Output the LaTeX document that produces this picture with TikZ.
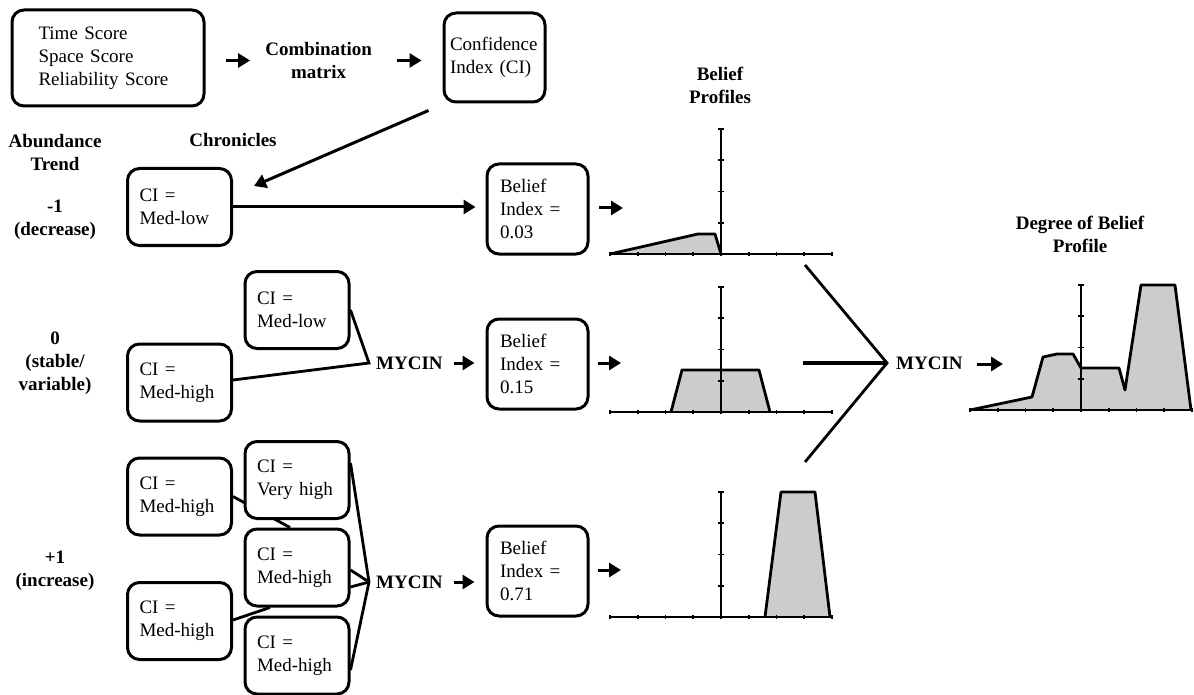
\documentclass[tikz,border=0pt]{standalone}
\usepackage{fontspec}
\setmainfont{Liberation Serif}
\usetikzlibrary{arrows.meta,calc}
\pgfdeclarelayer{bg}
\pgfsetlayers{bg,main}
\begin{document}
\begin{tikzpicture}[x=1pt,y=-1pt,
  font=\fontsize{19}{23}\selectfont,
  box/.style={draw, line width=3pt, rounded corners=12pt, fill=white, align=left, inner sep=0pt},
  cibox/.style={box, minimum width=104pt, minimum height=77pt, text width=80pt},
  bbox/.style={box, minimum width=101pt, minimum height=90pt, text width=75pt},
  lbl/.style={font=\fontsize{19}{23}\selectfont\bfseries, align=center, inner sep=0pt},
  con/.style={line width=2.8pt},
  arr/.style={line width=3pt, -{Triangle[length=12pt,width=14pt]}},
  axisline/.style={line width=1.6pt},
  proffill/.style={fill=black!20},
  profline/.style={line width=2.8pt, line join=round}
]
\useasboundingbox (0,0) rectangle (1194,695);

% ---------- top row ----------
\node[box, minimum width=192pt, minimum height=96pt, text width=139pt] (time) at (108,58)
  {Time Score\\Space Score\\Reliability Score};
\node[lbl] (combo) at (318.6,60.5) {Combination\\matrix};
\node[box, minimum width=101pt, minimum height=89pt, text width=89pt] (ci) at (494.5,57.5)
  {Confidence\\Index (CI)};
\draw[arr, shorten <=20pt, shorten >=15pt] (time.east |- combo.west) -- (combo.west);
\draw[arr, shorten <=25pt, shorten >=21pt] (combo.east) -- (ci.west |- combo.east);

% ---------- headings ----------
\node[lbl] (abund) at (55,152.5) {Abundance\\Trend};
\node[lbl] (chron) at (233,140) {Chronicles};
\node[lbl] (bprof) at (720,85.5) {Belief\\Profiles};
\node[lbl] (dbprof) at (1080,234.5) {Degree of Belief\\Profile};

% ---------- row -1 ----------
\node[lbl] (tm1) at (55,220) {-1\\(decrease)};
\node[cibox] (r1) at (179.5,207) {CI =\\Med-low};
\node[bbox] (b1) at (537.5,209) {Belief\\Index =\\0.03};
\draw[arr] ([shift={(-14,7)}]ci.south west) -- ([shift={(21,19)}]r1.north east);
\draw[arr, shorten >=10pt] (r1.east) -- (b1.west |- r1.east);

% ---------- row 0 ----------
\node[lbl] (t0) at (55,363) {0\\(stable/\\variable)};
\node[cibox] (ml0) at (297,310) {CI =\\Med-low};
\node[cibox] (mh0) at (179.5,382.5) {CI =\\Med-high};
\coordinate (m0) at (369,363);
\node[lbl, anchor=west] (my0) at (376,363) {MYCIN};
\node[bbox] (b2) at (537.5,364) {Belief\\Index =\\0.15};
\draw[con] (ml0.east) -- (m0) -- ([shift={(0,-2.5)}]mh0.east);
\draw[arr, shorten <=11pt, shorten >=11pt] (my0.east) -- (b2.west |- my0.east);

% ---------- row +1 ----------
\node[lbl] (tp1) at (55,571) {+1\\(increase)};
\node[cibox] (pa) at (179.5,496.5) {CI =\\Med-high};
\node[cibox] (pb) at (297,480) {CI =\\Very high};
\node[cibox] (pc) at (297,567.5) {CI =\\Med-high};
\node[cibox] (pd) at (179.5,621) {CI =\\Med-high};
\node[cibox] (pe) at (297,655.5) {CI =\\Med-high};
\coordinate (m1) at (369,582);
\node[lbl, anchor=west] (my1) at (376,582) {MYCIN};
\node[bbox] (b3) at (537.5,571) {Belief\\Index =\\0.71};
\begin{pgfonlayer}{bg}
  \draw[con] (pa.east) -- ([shift={(-7,0)}]pc.north);
  \draw[con] ([shift={(0,-1)}]pd.east) -- ([shift={(-27,0)}]pc.south);
\end{pgfonlayer}
\draw[con] ([shift={(0,-17)}]pb.east) -- (m1);
\draw[con] ([shift={(0,2.5)}]pc.east) -- (m1);
\draw[con] ([shift={(0,19.5)}]pc.east) -- (m1);
\draw[con] ([shift={(0,14.5)}]pe.east) -- (m1);
\draw[arr, shorten <=11pt, shorten >=11pt] (my1.east) -- (b3.west |- my1.east);

% ---------- arrows into belief profiles ----------
\coordinate (a1) at (623,208);
\coordinate (a2) at (621,363);
\coordinate (a3) at (621,570);
\draw[arr, shorten <=9pt] (b1.east |- a1) -- (a1);
\draw[arr, shorten <=8pt] (b2.east |- a2) -- (a2);
\draw[arr, shorten <=8pt] (b3.east |- a3) -- (a3);

% ---------- charts ----------
% chart 1
\begin{scope}[shift={(721,254)}]
  \fill[proffill] (-111,0) -- (-23,-20) -- (-6,-20) -- (0,0) -- cycle;
  \draw[profline] (-111,0) -- (-23,-20) -- (-6,-20) -- (0,0);
  \draw[axisline] (-111,0) -- (111,0);
  \draw[axisline] (0,0) -- (0,-125);
  \foreach \i in {-4,...,4} \draw[axisline] (\i*27.75,-2) -- (\i*27.75,2);
  \foreach \j in {1,...,4} \draw[axisline] (-3,-\j*31.25) -- (3,-\j*31.25);
\end{scope}
% chart 2
\begin{scope}[shift={(721,412)}]
  \fill[proffill] (-50,0) -- (-39,-42) -- (38,-42) -- (49,0) -- cycle;
  \draw[profline] (-50,0) -- (-39,-42) -- (38,-42) -- (49,0);
  \draw[axisline] (-111,0) -- (111,0);
  \draw[axisline] (0,0) -- (0,-125);
  \foreach \i in {-4,...,4} \draw[axisline] (\i*27.75,-2) -- (\i*27.75,2);
  \foreach \j in {1,...,4} \draw[axisline] (-3,-\j*31.25) -- (3,-\j*31.25);
\end{scope}
% chart 3
\begin{scope}[shift={(721,617)}]
  \fill[proffill] (44,0) -- (60,-125) -- (94,-125) -- (109,0) -- cycle;
  \draw[profline] (44,0) -- (60,-125) -- (94,-125) -- (109,0);
  \draw[axisline] (-111,0) -- (111,0);
  \draw[axisline] (0,0) -- (0,-125);
  \foreach \i in {-4,...,4} \draw[axisline] (\i*27.75,-2) -- (\i*27.75,2);
  \foreach \j in {1,...,4} \draw[axisline] (-3,-\j*31.25) -- (3,-\j*31.25);
\end{scope}
% chart 4
\begin{scope}[shift={(1081,410)}]
  \fill[proffill] (-111,0) -- (-49,-13) -- (-38,-53) -- (-24,-56) -- (-8,-56) -- (0,-42)
     -- (38,-42) -- (44,-20) -- (60,-125) -- (94,-125) -- (110,0) -- cycle;
  \draw[profline] (-111,0) -- (-49,-13) -- (-38,-53) -- (-24,-56) -- (-8,-56) -- (0,-42)
     -- (38,-42) -- (44,-20) -- (60,-125) -- (94,-125) -- (110,0);
  \draw[axisline] (-111,0) -- (111,0);
  \draw[axisline] (0,0) -- (0,-125);
  \foreach \i in {-4,...,4} \draw[axisline] (\i*27.75,-2) -- (\i*27.75,2);
  \foreach \j in {1,...,4} \draw[axisline] (-3,-\j*31.25) -- (3,-\j*31.25);
\end{scope}

% ---------- final combination ----------
\coordinate (p1) at (805,265);
\coordinate (p2) at (803,363);
\coordinate (p3) at (805,462);
\coordinate (v) at (887,363);
\draw[con, line join=miter] (p1) -- (v) -- (p3);
\draw[line width=3.4pt] (p2) -- (v);
\node[lbl, anchor=west] (my2) at (896,363) {MYCIN};
\coordinate (a4) at (1003,364);
\draw[arr, shorten <=14pt] (my2.east |- a4) -- (a4);
\end{tikzpicture}
\end{document}
